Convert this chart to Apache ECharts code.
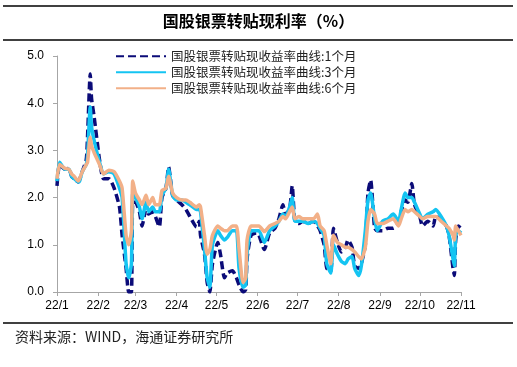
<!DOCTYPE html>
<html>
<head>
<meta charset="utf-8">
<script src="https://cdn.jsdelivr.net/npm/echarts@6/dist/echarts.min.js"></script>
<style>
html,body{margin:0;padding:0;background:#fff;}
#c{width:517px;height:367px;}
</style>
</head>
<body>
<div id="c"></div>
<script>
var dates = ['01-01','01-03','01-07','01-10','01-12','01-14','01-17','01-18','01-20','01-23','01-24','01-26','01-27','01-29',
'02-02','02-05','02-09','02-13','02-17','02-19','02-22','02-24','02-26','02-27',
'03-01','03-04','03-06','03-09','03-11','03-14','03-16','03-19','03-21','03-24','03-26','03-29',
'04-01','04-05','04-08','04-11','04-16','04-18','04-19','04-22','04-24','04-26','04-28',
'05-02','05-04','05-07','05-09','05-13','05-16','05-18','05-21','05-23','05-24','05-27','05-31',
'06-02','06-06','06-10','06-14','06-17','06-20','06-22','06-25','06-27','06-29',
'07-02','07-05','07-09','07-13','07-16','07-18','07-21','07-23','07-26','07-28','07-31',
'08-03','08-06','08-08','08-11','08-13','08-16','08-18','08-21','08-23','08-25','08-28','08-30',
'09-03','09-07','09-11','09-15','09-17','09-20','09-22','09-25','09-27',
'10-01','10-03','10-07','10-11','10-13','10-17','10-21','10-23','10-26','10-27','10-28','10-30','11-01'];
var m1 = [2.25,2.7,2.6,2.62,2.45,2.4,2.33,2.38,2.55,2.8,3.3,4.62,4.1,3.7,
2.8,2.4,2.4,2.2,1.8,1.2,0.5,0.0,0.0,1.9,
1.9,1.7,1.4,1.75,1.65,1.7,1.6,1.38,2.0,2.2,2.65,2.05,
1.95,1.85,1.75,1.6,1.38,1.5,1.2,0.8,0.2,0.0,0.6,
1.05,0.8,0.3,0.4,0.45,0.3,0.15,0.0,0.05,0.7,1.2,1.25,
1.2,0.9,1.25,1.35,1.55,1.85,1.65,1.75,2.25,1.5,
1.45,1.5,1.45,1.5,1.4,1.3,1.0,0.5,0.45,1.35,1.05,
0.85,0.95,1.1,0.95,0.55,0.5,0.6,1.0,2.1,2.37,1.35,1.3,
1.3,1.35,1.35,1.45,1.7,1.95,1.9,2.3,1.85,
1.6,1.4,1.5,1.4,1.6,1.55,1.4,1.2,0.5,0.35,1.1,1.4,1.35];
var m3 = [2.35,2.75,2.6,2.6,2.45,2.4,2.33,2.35,2.55,2.7,2.9,3.92,3.5,3.2,
2.75,2.5,2.55,2.5,2.2,2.0,0.6,0.3,0.6,2.1,
2.0,1.8,1.55,1.9,1.7,1.8,1.7,1.7,2.05,2.2,2.6,2.05,
1.95,1.95,1.9,1.85,1.75,1.75,1.7,0.9,0.3,0.1,1.0,
1.3,1.2,1.1,1.15,1.3,1.3,0.5,0.1,0.15,0.8,1.3,1.3,
1.3,1.05,1.3,1.4,1.5,1.65,1.6,1.8,2.0,1.5,
1.5,1.5,1.45,1.5,1.45,1.35,1.2,0.6,0.4,1.0,0.8,
0.65,0.6,0.7,0.75,0.5,0.35,0.55,1.3,1.95,2.1,1.55,1.3,
1.5,1.55,1.65,1.5,1.75,2.1,2.0,2.0,1.9,
1.65,1.55,1.65,1.7,1.75,1.6,1.4,1.2,0.7,0.55,1.2,1.3,1.25];
var m6 = [2.4,2.7,2.62,2.6,2.5,2.45,2.35,2.4,2.55,2.7,2.75,3.28,3.1,2.95,
2.7,2.5,2.58,2.55,2.35,2.2,1.2,1.0,1.3,2.35,
2.1,1.95,1.85,2.05,1.85,2.0,1.85,1.85,2.15,2.2,2.45,2.1,
2.0,1.95,1.95,1.9,1.8,1.85,1.8,1.2,0.8,0.9,1.2,
1.4,1.35,1.3,1.3,1.4,1.4,0.9,0.2,0.3,1.1,1.4,1.4,
1.4,1.28,1.4,1.45,1.5,1.6,1.55,1.7,1.8,1.55,
1.6,1.55,1.55,1.55,1.65,1.4,1.3,1.0,0.6,1.2,1.05,
1.0,0.95,0.95,0.9,0.85,0.75,0.7,0.95,1.5,1.75,1.65,1.45,
1.45,1.5,1.55,1.4,1.55,1.75,1.7,1.75,1.7,
1.6,1.55,1.6,1.6,1.6,1.5,1.4,1.35,1.2,1.1,1.4,1.3,1.2];
var seriesNames = ['国股银票转贴现收益率曲线:1个月','国股银票转贴现收益率曲线:3个月','国股银票转贴现收益率曲线:6个月'];
var monthLabels = ['22/1','22/2','22/3','22/4','22/5','22/6','22/7','22/8','22/9','22/10','22/11'];

function dayOf(md){
  var p = md.split('-');
  return (Date.UTC(2022, +p[0]-1, +p[1]) - Date.UTC(2022,0,1)) / 86400000;
}
var monthStarts = monthLabels.map(function(l,i){ return (Date.UTC(2022,i,1)-Date.UTC(2022,0,1))/86400000; });
function pairs(vals){ return dates.map(function(d,i){ return [dayOf(d), vals[i]]; }); }

var chart = echarts.init(document.getElementById('c'), null, {renderer:'canvas'});
var axisGray = '#A6A6A6';
chart.setOption({
  animation:false,
  backgroundColor:'#fff',
  graphic:[
    {type:'line', shape:{x1:3,y1:6,x2:513,y2:6}, style:{stroke:'#000',lineWidth:1.5}},
    {type:'line', shape:{x1:3,y1:40,x2:513,y2:40}, style:{stroke:'#000',lineWidth:1.5}},
    {type:'line', shape:{x1:3,y1:323,x2:513,y2:323}, style:{stroke:'#000',lineWidth:1.5}},
    {type:'text', left:'center', top:13, style:{text:'国股银票转贴现利率（%）', font:'bold 16px "Noto Sans CJK SC"', fill:'#000'}},
    {type:'text', left:15, top:330, style:{text:'资料来源：WIND，海通证券研究所', font:'14px "Noto Sans CJK SC"', fill:'#222'}}
  ],
  grid:{left:57, right:56, top:56, bottom:75, containLabel:false},
  legend:{
    orient:'vertical', left:115, top:50, itemWidth:50, itemHeight:12, itemGap:3.5, padding:0,
    itemStyle:{opacity:0},
    textStyle:{fontFamily:'"Noto Sans CJK SC"', fontSize:12.5, color:'#222'},
    data:seriesNames
  },
  xAxis:{
    type:'value', min:0, max:304,
    axisLine:{show:true, lineStyle:{color:axisGray, width:1}},
    axisTick:{show:true, length:4, lineStyle:{color:axisGray}, customValues:monthStarts},
    axisLabel:{customValues:monthStarts, margin:8, fontSize:12, fontFamily:'"Liberation Sans"', color:'#000',
      formatter:function(v){ var i = monthStarts.indexOf(v); return i>=0 ? monthLabels[i] : ''; }},
    splitLine:{show:false}
  },
  yAxis:{
    type:'value', min:0, max:5, interval:1,
    axisLine:{show:true, lineStyle:{color:axisGray, width:1}},
    axisTick:{show:true, length:4, lineStyle:{color:axisGray}},
    axisLabel:{margin:13, fontSize:12, fontFamily:'"Liberation Sans"', color:'#000',
      formatter:function(v){ return v.toFixed(1); }},
    splitLine:{show:false}
  },
  series:[
    {name:seriesNames[0], type:'line', data:pairs(m1), symbol:'none', smooth:0.2,
     lineStyle:{color:'#0B0B78', width:3.5, type:[8,4]}, itemStyle:{color:'#0B0B78'}, z:2},
    {name:seriesNames[1], type:'line', data:pairs(m3), symbol:'none', smooth:0.2,
     lineStyle:{color:'#14C4F2', width:3.5}, itemStyle:{color:'#14C4F2'}, z:3},
    {name:seriesNames[2], type:'line', data:pairs(m6), symbol:'none', smooth:0.2,
     lineStyle:{color:'#F2B088', width:3.5}, itemStyle:{color:'#F2B088'}, z:4}
  ]
});
</script>
</body>
</html>
